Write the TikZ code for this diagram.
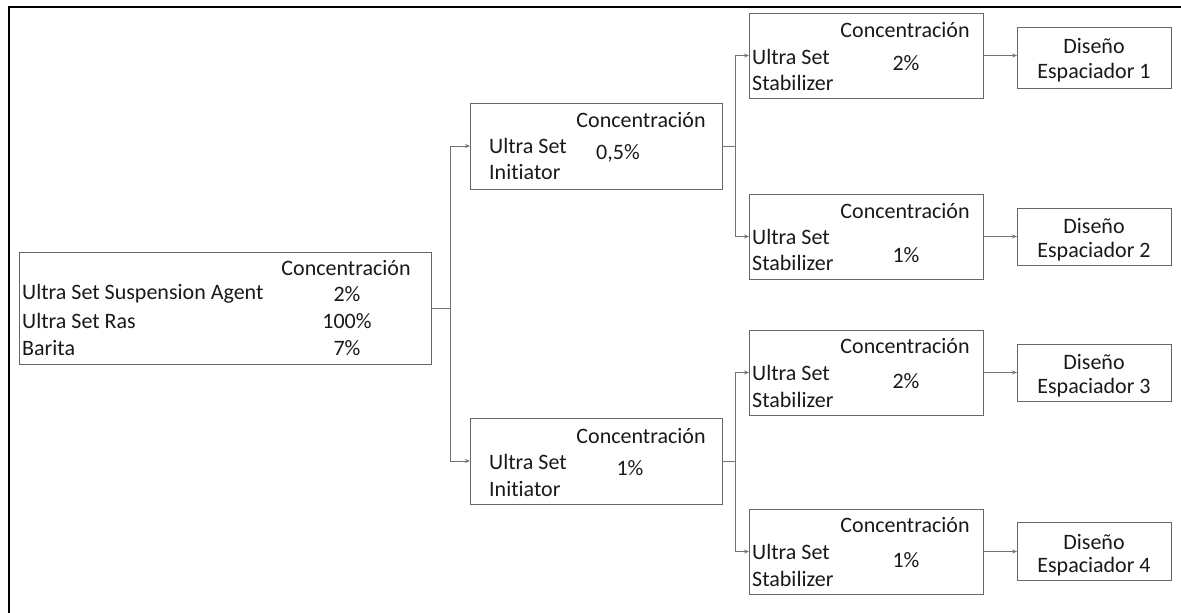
\documentclass[tikz,border=0pt]{standalone}
\usepackage{fontspec}
\setmainfont[Ligatures=NoCommon]{Carlito}
\usetikzlibrary{arrows.meta}
\begin{document}
\begin{tikzpicture}[x=1pt,y=-1pt,
 box/.style={draw=black!60, line width=0.9pt, inner sep=0pt, outer sep=0pt, rectangle},
 txt/.style={inner sep=0pt, font=\fontsize{22}{27}\selectfont, text=black!90},
 conn/.style={draw=black!55, line width=0.8pt, -{Stealth[length=5pt,width=4pt]}},
 plain/.style={draw=black!55, line width=0.8pt},
 frame/.style={draw=black, line width=2.4pt}]
\useasboundingbox (0,0) rectangle (1181,613);
% outer frame (top and left only)
\coordinate (fa) at (1181,7);
\coordinate (fb) at (9,7);
\coordinate (fc) at (9,613);
\draw[frame] (fa) -- (fb) -- (fc);

% boxes
\node[box, minimum width=412, minimum height=112] (main) at (225,308) {};
\node[box, minimum width=252, minimum height=86] (init1) at (596,146) {};
\node[box, minimum width=252, minimum height=86] (init2) at (596,461) {};
\node[box, minimum width=234, minimum height=85] (stab1) at (866,55.5) {};
\node[box, minimum width=234, minimum height=85] (stab2) at (866,236.5) {};
\node[box, minimum width=234, minimum height=85] (stab3) at (866,372.5) {};
\node[box, minimum width=234, minimum height=85] (stab4) at (866,551.5) {};
\node[box, minimum width=154, minimum height=61] (dis1) at (1094,57.5) {};
\node[box, minimum width=154, minimum height=57] (dis2) at (1094,236.5) {};
\node[box, minimum width=154, minimum height=57] (dis3) at (1094,372.5) {};
\node[box, minimum width=154, minimum height=58] (dis4) at (1094,551) {};

% main box text
\node[txt] (mc) at (346,268) {Concentración};
\node[txt,anchor=west] (m1) at (22,294) {Ultra Set Suspension Agent};
\node[txt] (m1v) at (347,294) {2\%};
\node[txt,anchor=west] (m2) at (22,321) {Ultra Set Ras};
\node[txt] (m2v) at (347,321) {100\%};
\node[txt,anchor=west] (m3) at (22,348) {Barita};
\node[txt] (m3v) at (347,348) {7\%};

% initiator texts
\node[txt] (i1c) at (641,120) {Concentración};
\node[txt,anchor=west] (i1a) at (489,146) {Ultra Set};
\node[txt,anchor=west] (i1b) at (489,172) {Initiator};
\node[txt] (i1v) at (618,153) {0,5\%};

\node[txt] (i2c) at (641,436) {Concentración};
\node[txt,anchor=west] (i2a) at (489,462) {Ultra Set};
\node[txt,anchor=west] (i2b) at (489,489) {Initiator};
\node[txt] (i2v) at (630,468) {1\%};

% stabilizer texts
\node[txt] (s1c) at (905,30) {Concentración};
\node[txt,anchor=west] (s1a) at (752,57) {Ultra Set};
\node[txt,anchor=west] (s1b) at (752,83) {Stabilizer};
\node[txt] (s1v) at (906,63) {2\%};

\node[txt] (s2c) at (905,211) {Concentración};
\node[txt,anchor=west] (s2a) at (752,237) {Ultra Set};
\node[txt,anchor=west] (s2b) at (752,263) {Stabilizer};
\node[txt] (s2v) at (906,255) {1\%};

\node[txt] (s3c) at (905,346) {Concentración};
\node[txt,anchor=west] (s3a) at (752,373) {Ultra Set};
\node[txt,anchor=west] (s3b) at (752,400) {Stabilizer};
\node[txt] (s3v) at (906,381) {2\%};

\node[txt] (s4c) at (905,525) {Concentración};
\node[txt,anchor=west] (s4a) at (752,552) {Ultra Set};
\node[txt,anchor=west] (s4b) at (752,579) {Stabilizer};
\node[txt] (s4v) at (906,560) {1\%};

% diseño texts
\node[txt] (d1a) at (1094,46) {Diseño};
\node[txt] (d1b) at (1094,73) {Espaciador 1};
\node[txt] (d2a) at (1094,226) {Diseño};
\node[txt] (d2b) at (1094,252) {Espaciador 2};
\node[txt] (d3a) at (1094,362) {Diseño};
\node[txt] (d3b) at (1094,388) {Espaciador 3};
\node[txt] (d4a) at (1094,542) {Diseño};
\node[txt] (d4b) at (1094,567) {Espaciador 4};

% connectors
\coordinate (j0) at (450,308);
\draw[plain] (main.east) -- (j0);
\draw[conn] (j0) |- (init1.west);
\draw[conn] (j0) |- (init2.west);

\coordinate (j1) at (735,146);
\draw[plain] (init1.east) -- (j1);
\draw[conn] (j1) |- (stab1.west);
\draw[conn] (j1) |- (stab2.west);

\coordinate (j2) at (735,461);
\draw[plain] (init2.east) -- (j2);
\draw[conn] (j2) |- (stab3.west);
\draw[conn] (j2) |- (stab4.west);

\draw[conn] (stab1.east) -- (stab1.east -| dis1.west);
\draw[conn] (stab2.east) -- (stab2.east -| dis2.west);
\draw[conn] (stab3.east) -- (stab3.east -| dis3.west);
\draw[conn] (stab4.east) -- (stab4.east -| dis4.west);
\end{tikzpicture}
\end{document}
